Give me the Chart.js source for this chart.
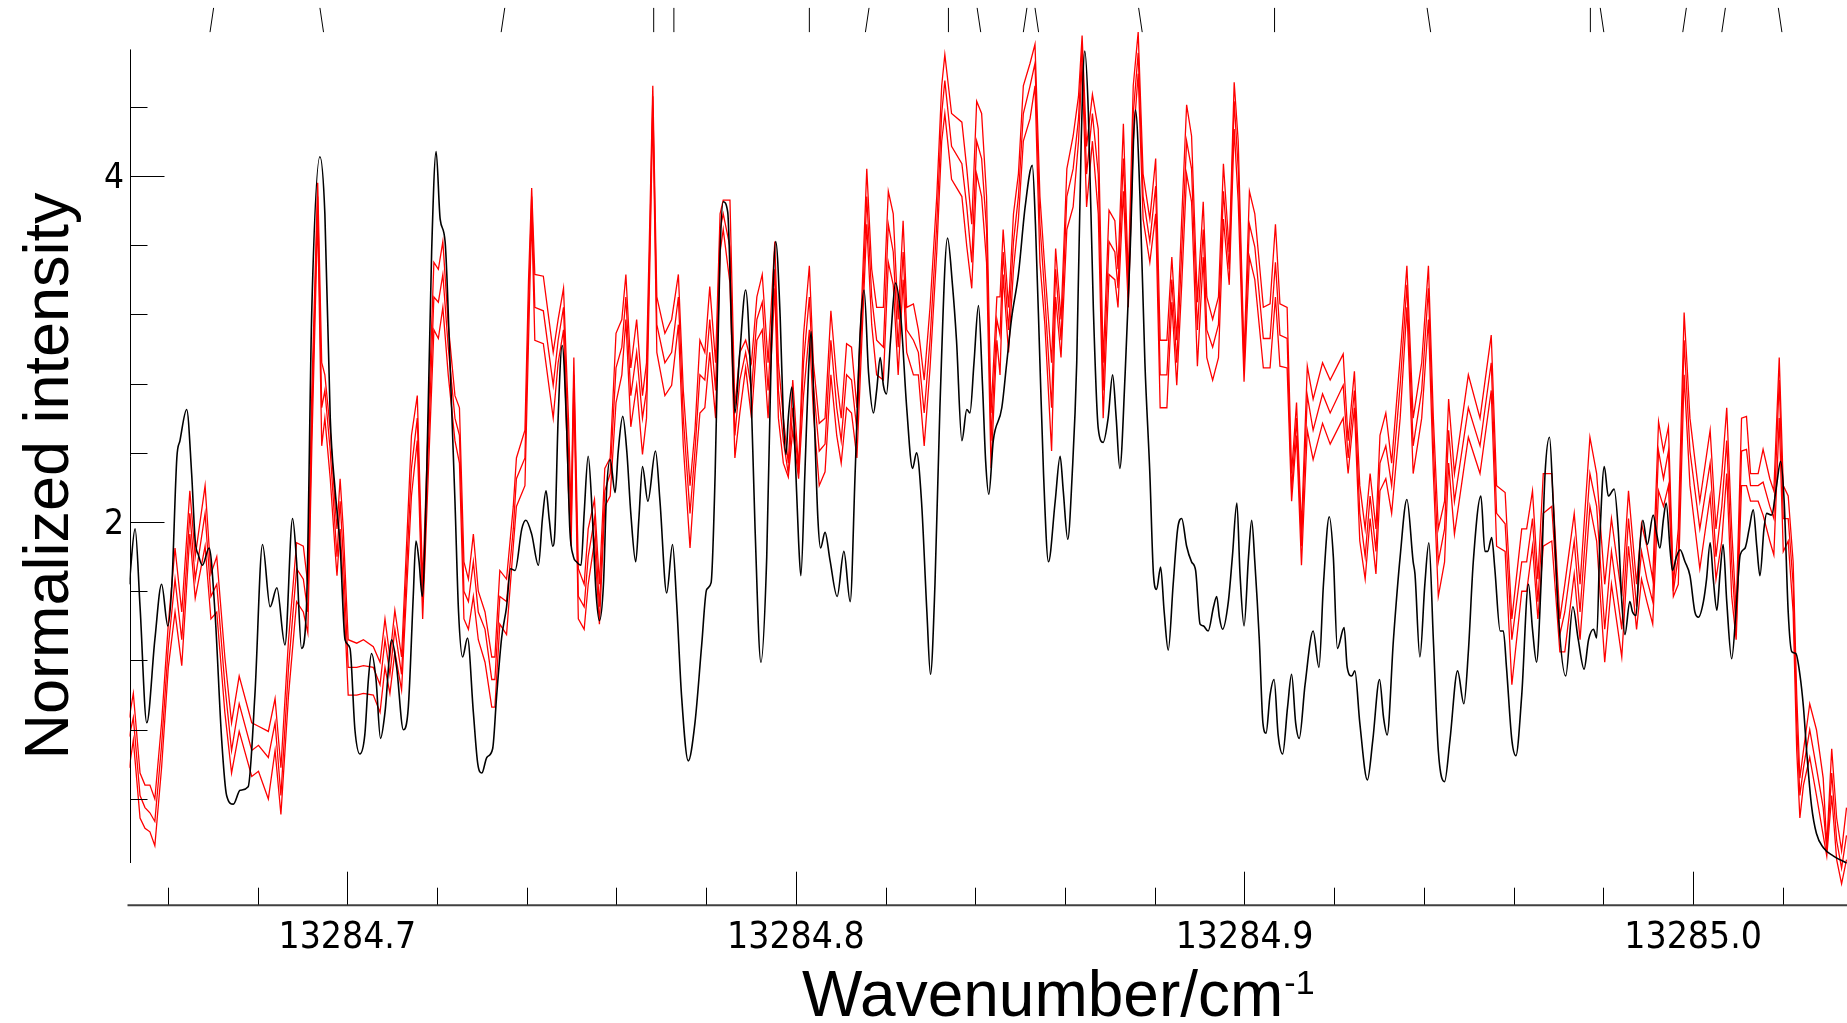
<!DOCTYPE html>
<html>
<head>
<meta charset="utf-8">
<title>Spectrum</title>
<script src="https://cdn.jsdelivr.net/npm/chart.js@4.4.1/dist/chart.umd.min.js"></script>
<style>
html,body{margin:0;padding:0;background:#fff;overflow:hidden;}
#wrap{position:relative;width:1847px;height:1023px;}
canvas{display:block;}
</style>
</head>
<body>
<div id="wrap"><canvas id="chart" width="1847" height="1023"></canvas></div>
<script>
// ---- axis ranges and ticks ----
const X_MIN = 13284.651449, X_MAX = 13285.034307;
const Y_MIN = -0.2109, Y_MAX = 5.0156;
const xTickValues = [13284.7, 13284.8, 13284.9, 13285.0];
const xTickLabels = ['13284.7', '13284.8', '13284.9', '13285.0'];
const xMinorStep = 0.02;
const yTickValues = [2, 4];
const yTickLabels = ['2', '4'];
const yMinorStep = 0.4;
const yAxisSpan = [0.03, 4.73];
const xTitle = 'Wavenumber/cm';
const xTitleSup = '-1';
const yTitle = 'Normalized intensity';

// ---- observed spectrum (black) ----
const blackX = [
13284.6514,13284.6527,13284.6538,13284.6553,13284.6571,13284.6586,13284.6600,13284.6609,13284.6620,13284.6627,
13284.6642,13284.6653,13284.6661,13284.6668,13284.6677,13284.6692,13284.6705,13284.6720,13284.6731,13284.6746,
13284.6761,13284.6779,13284.6794,13284.6811,13284.6828,13284.6843,13284.6861,13284.6878,13284.6887,13284.6898,
13284.6909,13284.6921,13284.6939,13284.6950,13284.6962,13284.6973,13284.6984,
13284.6995,13284.7006,13284.7017,13284.7028,13284.7039,13284.7047,13284.7054,13284.7064,13284.7074,13284.7084,
13284.7099,13284.7110,13284.7125,13284.7136,13284.7147,13284.7153,13284.7160,13284.7167,13284.7177,13284.7188,
13284.7198,13284.7207,13284.7218,13284.7229,13284.7240,13284.7248,13284.7257,13284.7268,13284.7281,13284.7291,
13284.7300,13284.7311,13284.7324,13284.7333,13284.7344,13284.7355,13284.7364,13284.7374,13284.7389,13284.7398,
13284.7411,13284.7426,13284.7435,13284.7443,13284.7450,13284.7458,
13284.7463,13284.7470,13284.7479,13284.7489,13284.7496,13284.7504,13284.7511,13284.7521,13284.7528,13284.7537,
13284.7546,13284.7554,13284.7562,13284.7571,13284.7578,13284.7586,13284.7597,13284.7604,13284.7614,13284.7623,
13284.7632,13284.7643,13284.7650,13284.7658,13284.7670,13284.7687,13284.7697,13284.7712,13284.7725,13284.7734,
13284.7745,13284.7760,13284.7775,13284.7790,13284.7801,13284.7811,13284.7820,13284.7831,13284.7838,13284.7848,
13284.7857,13284.7864,13284.7875,13284.7888,13284.7898,13284.7909,13284.7922,13284.7935,13284.7946,
13284.7955,13284.7965,13284.7972,13284.7978,13284.7983,13284.7991,13284.7998,13284.8006,13284.8011,13284.8020,
13284.8028,13284.8034,13284.8041,13284.8049,13284.8055,13284.8065,13284.8076,13284.8092,13284.8107,13284.8121,
13284.8132,13284.8143,13284.8152,13284.8162,13284.8173,13284.8180,13284.8188,13284.8195,13284.8202,13284.8211,
13284.8222,13284.8234,13284.8247,13284.8260,13284.8269,13284.8280,13284.8292,13284.8300,13284.8310,13284.8321,
13284.8338,13284.8349,13284.8358,13284.8370,13284.8381,13284.8388,13284.8397,13284.8407,13284.8416,
13284.8423,13284.8430,13284.8440,13284.8459,13284.8470,13284.8481,13284.8496,13284.8511,13284.8527,13284.8534,
13284.8544,13284.8552,13284.8563,13284.8578,13284.8589,13284.8596,13284.8606,13284.8616,13284.8626,13284.8636,
13284.8644,13284.8652,13284.8663,13284.8674,13284.8685,13284.8696,13284.8706,13284.8714,13284.8722,13284.8734,
13284.8745,13284.8757,13284.8767,13284.8778,13284.8789,13284.8797,13284.8804,13284.8813,13284.8821,13284.8830,
13284.8841,13284.8851,13284.8860,13284.8871,13284.8882,13284.8891,13284.8901,
13284.8908,13284.8919,13284.8931,13284.8938,13284.8944,13284.8951,13284.8964,13284.8973,13284.8983,13284.8990,
13284.8999,13284.9009,13284.9016,13284.9023,13284.9033,13284.9041,13284.9048,13284.9057,13284.9066,13284.9075,
13284.9085,13284.9096,13284.9105,13284.9114,13284.9122,13284.9135,13284.9153,13284.9166,13284.9176,13284.9189,
13284.9198,13284.9207,13284.9222,13284.9229,13284.9239,13284.9246,13284.9257,13284.9274,13284.9286,13284.9301,
13284.9310,13284.9318,13284.9332,13284.9347,13284.9362,13284.9376,
13284.9380,13284.9391,13284.9402,13284.9411,13284.9421,13284.9432,13284.9446,13284.9458,13284.9475,13284.9489,
13284.9499,13284.9510,13284.9527,13284.9536,13284.9542,13284.9551,13284.9558,13284.9570,13284.9577,13284.9584,
13284.9596,13284.9605,13284.9618,13284.9633,13284.9642,13284.9651,13284.9661,13284.9670,13284.9680,13284.9688,
13284.9700,13284.9716,13284.9732,13284.9744,13284.9757,13284.9767,13284.9778,13284.9785,13284.9793,13284.9802,
13284.9811,13284.9824,13284.9833,13284.9841,13284.9848,13284.9859,
13284.9865,13284.9873,13284.9880,13284.9888,13284.9898,13284.9911,13284.9919,13284.9926,13284.9934,13284.9940,
13284.9949,13284.9954,13284.9963,13284.9971,13284.9982,13284.9993,13285.0004,13285.0012,13285.0023,13285.0030,
13285.0038,13285.0045,13285.0053,13285.0060,13285.0067,13285.0075,13285.0086,13285.0097,13285.0105,13285.0116,
13285.0125,13285.0134,13285.0142,13285.0149,13285.0158,13285.0164,13285.0175,13285.0186,13285.0195,13285.0203,
13285.0212,13285.0220,13285.0229,13285.0238,13285.0246,13285.0253,13285.0264,13285.0275,13285.0290,13285.0313,
13285.0342
];
const blackY = [
1.64,1.96,1.51,0.84,1.32,1.64,1.40,1.64,2.37,2.47,
2.65,2.28,1.89,1.81,1.75,1.85,1.48,0.74,0.42,0.37,
0.45,0.47,1.00,1.87,1.51,1.62,1.29,2.02,1.77,1.27,
1.51,3.24,4.11,3.78,2.60,2.18,1.86,
1.32,1.27,0.80,0.66,0.77,1.09,1.24,1.09,0.75,0.90,
1.32,1.16,0.80,0.93,1.57,1.89,1.77,1.57,2.28,3.56,
4.14,3.75,3.62,2.92,2.12,1.48,1.22,1.33,0.90,0.60,
0.55,0.64,0.69,1.00,1.33,1.51,1.73,1.72,1.96,2.01,
1.93,1.75,2.02,2.18,2.02,1.86,
1.96,2.60,3.02,2.54,1.96,1.80,1.77,1.75,2.05,2.38,
2.05,1.61,1.43,1.64,2.18,2.36,2.17,2.41,2.61,2.41,
2.05,1.77,2.02,2.32,2.12,2.41,2.12,1.59,1.87,1.54,
1.00,0.62,0.84,1.29,1.61,1.65,2.28,3.56,3.85,3.79,
3.08,2.63,2.98,3.34,2.92,1.96,1.19,1.80,3.08,
3.62,3.18,2.60,2.39,2.60,2.78,2.41,1.89,1.69,2.28,
2.86,3.10,2.60,2.02,1.85,1.94,1.78,1.57,1.83,1.54,
2.28,3.08,3.34,2.86,2.63,2.76,2.95,2.79,2.74,3.05,
3.38,3.18,2.66,2.31,2.40,2.12,1.48,1.12,1.64,2.66,
3.64,3.37,3.05,2.47,2.65,2.63,2.92,3.25,2.79,
2.35,2.16,2.47,2.66,2.92,3.18,3.43,3.82,4.06,3.72,
2.92,2.28,1.77,2.12,2.38,2.18,1.90,2.28,2.92,4.20,
4.72,4.36,3.24,2.54,2.46,2.60,2.85,2.60,2.31,2.86,
3.56,4.38,3.88,2.92,2.28,1.70,1.61,1.74,1.48,1.26,
1.64,1.96,2.02,1.86,1.77,1.72,1.41,
1.40,1.37,1.51,1.57,1.45,1.38,1.54,1.80,2.11,1.70,
1.40,1.80,2.01,1.77,1.32,0.84,0.78,1.00,1.09,0.77,
0.66,0.93,1.12,0.84,0.75,1.06,1.37,1.16,1.64,2.03,
1.80,1.27,1.39,1.16,1.11,1.14,0.84,0.51,0.74,1.09,
0.87,0.77,1.32,1.80,2.13,1.77,
1.70,1.22,1.64,1.88,1.32,0.68,0.50,0.74,1.14,0.95,
1.25,1.77,2.15,1.83,1.83,1.91,1.73,1.37,1.37,1.16,
0.74,0.65,1.00,1.64,1.38,1.19,1.64,2.28,2.49,2.12,
1.45,1.11,1.51,1.32,1.15,1.32,1.38,1.33,1.96,2.32,
2.15,2.19,1.96,1.54,1.35,1.54,
1.48,1.46,1.80,2.01,1.87,2.04,1.93,1.85,2.02,2.11,
1.83,1.72,1.80,1.84,1.77,1.69,1.48,1.45,1.54,1.67,
1.88,1.67,1.49,1.70,1.87,1.54,1.21,1.54,1.81,1.85,
1.96,2.07,1.86,1.69,1.96,2.05,2.04,2.21,2.35,2.12,
1.48,1.25,1.24,1.12,0.93,0.68,0.36,0.20,0.12,0.07,
0.03
];

// ---- simulated spectra (red), three traces on a shared grid ----
const redX = [
13284.6514,13284.6523,13284.6538,13284.6549,13284.6560,13284.6571,13284.6586,13284.6601,13284.6616,13284.6631,
13284.6649,13284.6661,13284.6683,13284.6696,13284.6709,13284.6727,13284.6742,13284.6759,13284.6787,13284.6802,
13284.6824,13284.6839,13284.6852,13284.6869,13284.6887,13284.6902,13284.6912,13284.6921,13284.6934,13284.6943,
13284.6950,13284.6962,13284.6973,13284.6977,13284.6984,
13284.6991,13284.7002,13284.7021,13284.7036,13284.7058,13284.7073,13284.7084,13284.7095,13284.7106,13284.7121,
13284.7143,13284.7156,13284.7168,13284.7183,13284.7193,13284.7203,13284.7213,13284.7225,13284.7240,13284.7250,
13284.7260,13284.7270,13284.7281,13284.7292,13284.7307,13284.7322,13284.7329,13284.7340,13284.7355,13284.7370,
13284.7377,13284.7396,13284.7404,13284.7411,13284.7418,13284.7437,13284.7459,
13284.7470,13284.7482,13284.7493,13284.7499,13284.7505,13284.7515,13284.7528,13284.7537,13284.7551,13284.7562,
13284.7574,13284.7586,13284.7599,13284.7612,13284.7621,13284.7632,13284.7645,13284.7658,13284.7667,13284.7675,
13284.7681,13284.7690,13284.7708,13284.7723,13284.7738,13284.7749,13284.7764,13284.7775,13284.7786,13284.7797,
13284.7808,13284.7821,13284.7831,13284.7838,13284.7853,13284.7864,13284.7875,13284.7888,13284.7901,13284.7913,
13284.7925,13284.7938,
13284.7953,13284.7961,13284.7972,13284.7983,13284.7993,13284.8006,13284.8017,13284.8030,13284.8039,13284.8052,
13284.8065,13284.8078,13284.8091,13284.8101,13284.8113,13284.8124,13284.8136,13284.8147,13284.8158,13284.8169,
13284.8180,13284.8195,13284.8206,13284.8217,13284.8228,13284.8239,13284.8247,13284.8262,13284.8273,13284.8286,
13284.8299,13284.8314,13284.8325,13284.8332,13284.8347,13284.8370,13284.8381,13284.8392,13284.8403,13284.8414,
13284.8425,
13284.8435,13284.8448,13284.8455,13284.8462,13284.8474,13284.8485,13284.8496,13284.8507,13284.8522,13284.8533,
13284.8544,13284.8555,13284.8570,13284.8579,13284.8591,13284.8604,13284.8618,13284.8630,13284.8638,13284.8648,
13284.8661,13284.8674,13284.8685,13284.8698,13284.8711,13284.8718,13284.8730,13284.8741,13284.8752,13284.8763,
13284.8774,13284.8789,13284.8802,13284.8812,13284.8827,13284.8838,13284.8849,13284.8860,13284.8871,13284.8882,
13284.8895,13284.8908,
13284.8916,13284.8929,13284.8942,13284.8953,13284.8966,13284.8977,13284.8986,13284.8999,13284.9011,13284.9023,
13284.9042,13284.9057,13284.9069,13284.9079,13284.9095,13284.9105,13284.9116,13284.9127,13284.9140,13284.9153,
13284.9174,13284.9191,13284.9220,13284.9231,13284.9245,13284.9257,13284.9269,13284.9280,13284.9293,13284.9302,
13284.9315,13284.9328,13284.9347,13284.9362,13284.9376,
13284.9395,13284.9410,13284.9421,13284.9432,13284.9446,13284.9455,13284.9468,13284.9499,13284.9525,13284.9550,
13284.9562,13284.9581,13284.9596,13284.9618,13284.9629,13284.9642,13284.9654,13284.9666,13284.9685,13284.9703,
13284.9714,13284.9735,13284.9748,13284.9770,13284.9785,13284.9803,13284.9818,13284.9841,13284.9856,
13284.9874,13284.9885,13284.9897,13284.9910,13284.9923,13284.9934,13284.9945,13284.9956,13284.9967,13284.9980,
13284.9993,13285.0015,13285.0038,13285.0051,13285.0064,13285.0075,13285.0086,13285.0096,13285.0108,13285.0119,
13285.0128,13285.0145,13285.0156,13285.0171,13285.0180,13285.0192,13285.0201,13285.0212,13285.0223,13285.0231,
13285.0238,13285.0246,13285.0260,13285.0275,13285.0290,13285.0298,13285.0309,13285.0320,13285.0331,13285.0342
];
const redUpper = [
0.87,1.01,0.55,0.48,0.48,0.40,0.84,1.41,1.85,1.48,
2.18,1.80,2.21,1.70,1.80,1.22,0.84,1.11,0.84,0.82,
0.79,0.98,0.58,1.32,1.88,1.86,1.64,2.76,3.96,2.92,
2.85,2.53,2.09,1.96,2.25,
1.96,1.32,1.30,1.32,1.28,1.19,1.44,1.22,1.49,1.22,
2.50,2.73,1.64,2.76,3.50,3.46,3.62,3.14,2.73,2.66,
1.77,1.67,1.93,1.60,1.48,1.22,1.22,1.72,1.67,2.09,
2.37,2.53,3.40,3.93,3.43,3.42,2.98,
3.17,3.35,2.60,2.05,2.95,1.73,1.64,1.96,2.13,1.64,
2.31,2.37,3.09,3.17,3.43,2.89,3.17,2.73,2.92,3.82,
4.52,3.30,3.09,3.17,3.43,2.76,2.21,2.53,3.05,2.98,
3.36,2.92,3.78,3.86,3.86,2.66,2.98,3.05,2.92,3.30,
3.43,2.92,
3.62,2.92,2.60,2.34,2.82,2.31,3.08,3.48,2.92,2.57,
2.60,3.22,2.82,2.60,3.03,3.01,2.66,3.30,4.04,3.46,
3.24,3.24,3.91,3.78,3.17,3.74,3.24,3.26,3.11,2.82,
3.24,3.88,4.52,4.70,4.36,4.31,4.04,3.72,4.43,4.36,
3.88,
2.63,3.30,3.30,3.69,3.24,3.78,4.01,4.52,4.65,4.76,
3.88,3.46,2.92,3.58,3.17,4.04,4.23,4.46,4.81,4.17,
4.47,4.27,2.92,3.80,3.74,3.46,4.30,3.40,4.52,4.83,
4.01,3.75,4.10,3.05,3.05,3.53,3.05,3.75,4.41,4.23,
3.27,3.85,
3.30,3.17,3.30,4.07,3.56,4.54,4.20,2.95,3.91,3.78,
3.24,3.26,3.72,3.26,3.24,2.28,2.69,1.96,2.90,2.71,
2.92,2.82,2.97,2.47,2.87,2.21,1.96,2.28,1.96,2.50,
2.63,2.34,2.95,3.48,2.60,
2.92,3.48,2.60,1.96,2.12,2.71,2.28,2.85,2.60,3.08,
2.21,2.17,1.44,1.96,1.96,2.18,1.67,2.28,2.28,1.44,
1.64,2.05,1.64,2.49,2.28,1.64,2.02,1.57,2.18,
1.64,1.99,1.86,1.67,2.58,2.41,2.55,1.64,1.96,3.21,
2.60,2.12,2.53,1.96,2.28,2.66,1.96,1.48,2.60,2.61,
2.28,2.28,2.42,2.25,2.18,2.95,2.21,2.15,1.77,1.00,
0.52,0.68,0.95,0.80,0.52,0.13,0.69,0.29,0.10,0.35
];
const redMiddle = [
0.76,0.87,0.42,0.35,0.32,0.27,0.71,1.28,1.67,1.32,
2.05,1.67,2.05,1.57,1.64,1.06,0.68,0.95,0.68,0.71,
0.64,0.84,0.42,1.16,1.73,1.67,1.48,2.60,3.88,2.66,
2.76,2.41,1.96,1.80,2.12,
1.80,1.16,1.16,1.17,1.16,1.06,1.32,1.12,1.38,1.12,
2.31,2.60,1.54,2.60,3.30,3.27,3.43,3.01,2.60,2.50,
1.60,1.54,1.77,1.48,1.38,1.09,1.09,1.57,1.54,1.96,
2.25,2.37,3.24,3.88,3.24,3.22,2.79,
3.05,3.24,2.41,1.96,2.85,1.57,1.51,1.80,2.02,1.51,
2.18,2.28,2.89,3.01,3.30,2.73,2.98,2.60,2.76,3.69,
4.46,3.14,2.92,2.98,3.30,2.60,2.05,2.41,2.85,2.82,
3.17,2.76,3.69,3.78,3.59,2.50,2.82,2.98,2.76,3.17,
3.27,2.76,
3.46,2.76,2.47,2.28,2.66,2.28,2.92,3.30,2.79,2.41,
2.45,3.05,2.66,2.47,2.85,2.82,2.53,3.17,3.88,3.30,
3.05,3.01,3.72,3.56,3.01,3.56,3.11,3.05,2.98,2.63,
3.05,3.72,4.36,4.55,4.17,4.07,3.82,3.50,4.20,4.10,
3.69,
2.47,3.17,3.08,3.56,3.11,3.62,3.88,4.36,4.52,4.65,
3.72,3.30,2.66,3.46,3.05,3.88,4.04,4.33,4.75,4.01,
4.36,4.01,2.76,3.62,3.56,3.35,4.10,3.30,4.36,4.71,
3.88,3.62,3.94,2.85,2.85,3.40,2.92,3.56,4.20,4.04,
3.11,3.69,
3.11,3.01,3.14,3.91,3.46,4.43,4.04,2.89,3.72,3.59,
3.06,3.06,3.50,3.08,3.06,2.18,2.60,1.86,2.73,2.53,
2.74,2.63,2.79,2.37,2.76,2.05,1.80,2.15,1.83,2.34,
2.44,2.21,2.79,3.37,2.44,
2.76,3.35,2.44,1.77,1.96,2.53,2.12,2.66,2.44,2.92,
2.05,1.99,1.32,1.77,1.77,2.02,1.54,2.05,2.09,1.35,
1.48,1.89,1.48,2.28,2.09,1.38,1.83,1.38,2.02,
1.51,1.83,1.67,1.54,2.41,2.25,2.41,1.60,1.80,3.05,
2.41,1.96,2.34,1.80,2.09,2.47,1.77,1.38,2.41,2.42,
2.21,2.21,2.23,2.09,2.02,2.82,2.02,2.02,1.64,0.84,
0.42,0.58,0.80,0.58,0.35,0.10,0.55,0.16,0.00,0.19
];
const redLower = [
0.58,0.74,0.29,0.23,0.21,0.13,0.58,1.16,1.48,1.17,
1.93,1.56,1.86,1.44,1.48,0.90,0.55,0.79,0.53,0.56,
0.40,0.68,0.31,1.00,1.54,1.48,1.36,2.44,3.78,2.44,
2.60,2.25,1.83,1.69,1.96,
1.64,1.00,1.00,1.01,1.00,0.90,1.16,1.01,1.25,1.03,
2.15,2.47,1.44,2.44,3.11,3.06,3.24,2.85,2.47,2.34,
1.44,1.38,1.57,1.32,1.19,0.93,0.93,1.41,1.35,1.86,
2.09,2.21,3.05,3.78,3.05,3.03,2.60,
2.92,3.11,2.18,1.86,2.76,1.44,1.38,1.64,1.89,1.41,
2.09,2.15,2.69,2.85,3.17,2.55,2.79,2.39,2.60,3.56,
4.39,2.98,2.73,2.79,3.14,2.44,1.85,2.28,2.63,2.66,
2.98,2.60,3.56,3.69,3.38,2.37,2.63,2.89,2.60,3.05,
3.11,2.60,
3.35,2.60,2.34,2.26,2.53,2.25,2.73,3.11,2.63,2.21,
2.29,2.85,2.50,2.34,2.66,2.63,2.37,3.05,3.72,3.14,
2.85,2.82,3.50,3.37,2.85,3.40,2.98,2.85,2.85,2.44,
2.89,3.56,4.20,4.36,3.98,3.88,3.59,3.35,4.01,3.88,
3.50,
2.31,3.05,2.85,3.43,2.98,3.46,3.75,4.20,4.33,4.52,
3.50,3.14,2.41,3.30,2.95,3.69,3.82,4.20,4.65,3.82,
4.20,3.78,2.60,3.43,3.40,3.24,3.91,3.24,4.20,4.59,
3.75,3.50,3.78,2.66,2.66,3.27,2.79,3.37,4.01,3.85,
2.90,3.53,
2.95,2.82,2.95,3.75,3.37,4.27,3.85,2.81,3.53,3.40,
2.89,2.89,3.30,2.90,2.89,2.12,2.50,1.75,2.53,2.36,
2.57,2.45,2.60,2.28,2.66,1.89,1.67,2.02,1.70,2.18,
2.25,2.05,2.60,3.24,2.28,
2.60,3.17,2.28,1.57,1.77,2.34,1.93,2.49,2.28,2.76,
1.86,1.83,1.06,1.60,1.60,1.86,1.44,1.86,1.89,1.25,
1.25,1.70,1.32,2.09,1.89,1.19,1.64,1.22,1.86,
1.38,1.67,1.54,1.41,2.18,2.09,2.21,1.57,1.64,2.85,
2.21,1.73,2.15,1.67,1.89,2.28,1.57,1.32,2.21,2.21,
2.12,2.12,2.04,1.89,1.81,2.60,1.83,1.89,1.48,0.68,
0.29,0.48,0.64,0.42,0.19,0.07,0.42,0.05,-0.09,0.05
];

// ---- line-position markers along the top ----
const markX = [13284.6698,13284.6943,13284.7347,13284.7683,13284.7728,13284.8030,13284.8159,13284.8340,13284.8408,
               13284.8511,13284.8537,13284.8768,13284.9067,13284.9411,13284.9771,13284.9797,13284.9981,13285.0068,13285.0194];
const markShape = ['/','\\','/','|','|','|','/','|','\\','/','\\','\\','|','\\','|','\\','/','/','\\'];
const markLow = 4.83, markHigh = 4.97, markLean = 0.0008;

// ---- build datasets ----
const pts = (xs, ys) => xs.map((x, i) => ({x: x, y: ys[i]}));
const markData = [];
markX.forEach((x, i) => {
  const s = markShape[i] === '/' ? markLean : (markShape[i] === '\\' ? -markLean : 0);
  markData.push({x: x - s / 2, y: markLow}, {x: x + s / 2, y: markHigh}, {x: x, y: null});
});

const tickFont = "'DejaVu Sans Condensed', 'DejaVu Sans', sans-serif";
const titleFont = "'Liberation Sans', Arial, sans-serif";

const axisDecor = {
  id: 'axisDecor',
  afterDraw(chart) {
    const {ctx, chartArea: a, scales: {x, y}} = chart;
    ctx.save();
    // bottom axis line
    ctx.strokeStyle = '#404040';
    ctx.lineWidth = 2;
    ctx.beginPath();
    ctx.moveTo(a.left - 2, a.bottom + 0.5);
    ctx.lineTo(a.right, a.bottom + 0.5);
    ctx.stroke();
    // bottom ticks (pointing inward)
    ctx.strokeStyle = '#000';
    ctx.lineWidth = 1;
    const k0 = Math.ceil(X_MIN / xMinorStep - 1e-6), k1 = Math.floor(X_MAX / xMinorStep + 1e-6);
    for (let k = k0; k <= k1; k++) {
      const px = Math.round(x.getPixelForValue(k * xMinorStep)) + 0.5;
      const len = (k % 5 === 0) ? 33 : 17;
      ctx.beginPath();
      ctx.moveTo(px, a.bottom);
      ctx.lineTo(px, a.bottom - len);
      ctx.stroke();
    }
    // left axis line and ticks
    const lx = Math.round(a.left) + 0.5;
    ctx.beginPath();
    ctx.moveTo(lx, y.getPixelForValue(yAxisSpan[1]));
    ctx.lineTo(lx, y.getPixelForValue(yAxisSpan[0]));
    ctx.stroke();
    for (let k = 1; k * yMinorStep <= yAxisSpan[1] + 1e-9; k++) {
      const py = Math.round(y.getPixelForValue(k * yMinorStep)) + 0.5;
      const len = (k % 5 === 0) ? 34 : 17;
      ctx.beginPath();
      ctx.moveTo(lx, py);
      ctx.lineTo(lx + len, py);
      ctx.stroke();
    }
    // axis titles
    ctx.fillStyle = '#000';
    ctx.textBaseline = 'alphabetic';
    ctx.font = '63px ' + titleFont;
    ctx.textAlign = 'center';
    ctx.save();
    ctx.translate(68, 476);
    ctx.rotate(-Math.PI / 2);
    ctx.fillText(yTitle, 0, 0);
    ctx.restore();
    ctx.font = '64px ' + titleFont;
    ctx.textAlign = 'left';
    ctx.fillText(xTitle, 802, 1016);
    const w = ctx.measureText(xTitle).width;
    ctx.font = '34px ' + titleFont;
    ctx.fillText(xTitleSup, 802 + w + 1, 994);
    ctx.restore();
  }
};

new Chart(document.getElementById('chart').getContext('2d'), {
  type: 'line',
  data: {
    datasets: [
      {label: 'Observed', data: pts(blackX, blackY), borderColor: '#000000', borderWidth: 1.6,
       pointRadius: 0, cubicInterpolationMode: 'monotone', fill: false},
      {label: 'Simulation A', data: pts(redX, redUpper), borderColor: '#ff0000', borderWidth: 1.3,
       pointRadius: 0, tension: 0, fill: false},
      {label: 'Simulation B', data: pts(redX, redMiddle), borderColor: '#ff0000', borderWidth: 1.3,
       pointRadius: 0, tension: 0, fill: false},
      {label: 'Simulation C', data: pts(redX, redLower), borderColor: '#ff0000', borderWidth: 1.3,
       pointRadius: 0, tension: 0, fill: false},
      {label: 'Lines', data: markData, borderColor: '#000000', borderWidth: 1,
       pointRadius: 0, tension: 0, spanGaps: false, fill: false}
    ]
  },
  options: {
    responsive: false,
    animation: false,
    devicePixelRatio: 1,
    layout: {padding: 0},
    events: [],
    plugins: {legend: {display: false}, tooltip: {enabled: false}},
    scales: {
      x: {
        type: 'linear', min: X_MIN, max: X_MAX,
        grid: {display: false, drawTicks: false},
        border: {display: false},
        afterBuildTicks: s => { s.ticks = xTickValues.map(v => ({value: v})); },
        afterFit: s => { s.height = 118.3; s.paddingLeft = 0; s.paddingRight = 0; },
        ticks: {autoSkip: false, maxRotation: 0, minRotation: 0, padding: 11.4, color: '#000',
                font: {family: tickFont, size: 37}, callback: (v, i) => xTickLabels[i]}
      },
      y: {
        type: 'linear', min: Y_MIN, max: Y_MAX,
        grid: {display: false, drawTicks: false},
        border: {display: false},
        afterBuildTicks: s => { s.ticks = yTickValues.map(v => ({value: v})); },
        afterFit: s => { s.width = 129.5; s.paddingTop = 0; s.paddingBottom = 0; },
        ticks: {padding: 5.5, color: '#000', labelOffset: 3,
                font: {family: tickFont, size: 35}, callback: (v, i) => yTickLabels[i]}
      }
    }
  },
  plugins: [axisDecor]
});
</script>
</body>
</html>
